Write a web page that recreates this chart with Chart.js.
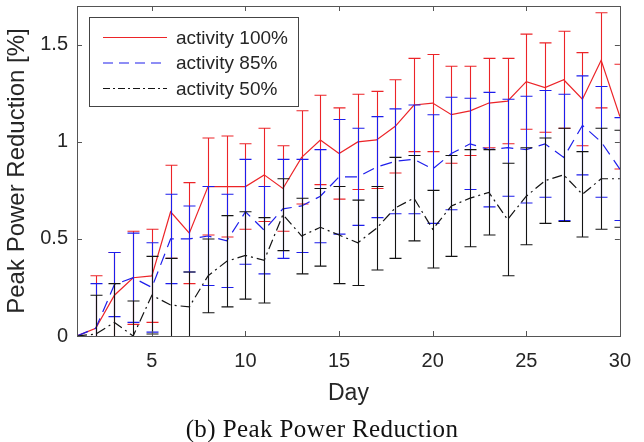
<!DOCTYPE html>
<html>
<head>
<meta charset="utf-8">
<script src="https://cdn.jsdelivr.net/npm/chart.js@4/dist/chart.umd.min.js"></script>
<style>
  body { margin: 0; background: #fff; width: 644px; height: 442px; position: relative; overflow: hidden; }
  canvas { display: block; }
  #caption { position: absolute; left: 0; top: 414px; width: 644px; text-align: center; line-height: 30px;
             font-family: "Liberation Serif", "Times New Roman", serif; font-size: 25px; letter-spacing: 0.4px; color: #111; }
</style>
</head>
<body>
<canvas id="peakChart" width="644" height="415"></canvas>
<div id="caption">(b) Peak Power Reduction</div>
<script>
const days = [1, 2, 3, 4, 5, 6, 7, 8, 9, 10, 11, 12, 13, 14, 15, 16, 17, 18, 19, 20, 21, 22, 23, 24, 25, 26, 27, 28, 29, 30];
const xTicks = [5, 10, 15, 20, 25, 30];
const yTicks = [0, 0.5, 1, 1.5];

// mean values
const act100 = [0, 0.04, 0.21, 0.30, 0.31, 0.64, 0.53, 0.77, 0.77, 0.77, 0.83, 0.76, 0.92, 1.01, 0.94,
                1.00, 1.01, 1.08, 1.19, 1.20, 1.14, 1.16, 1.20, 1.21, 1.31, 1.28, 1.32, 1.22, 1.42, 1.13];
const act85  = [0, 0.04, 0.265, 0.30, 0.25, 0.50, 0.50, 0.515, 0.49, 0.64, 0.545, 0.655, 0.67, 0.72, 0.82,
                0.82, 0.87, 0.90, 0.91, 0.86, 0.94, 0.99, 0.96, 0.97, 0.96, 0.99, 0.92, 1.085, 1.00, 0.86];
const act50  = [0, 0.01, 0.07, 0.0, 0.21, 0.16, 0.15, 0.31, 0.385, 0.415, 0.39, 0.625, 0.515, 0.56, 0.52,
                0.48, 0.555, 0.66, 0.71, 0.55, 0.67, 0.71, 0.74, 0.60, 0.72, 0.80, 0.83, 0.73, 0.81, 0.81];

// half-length of error bars
const err100 = [0, 0.27, 0.22, 0.24, 0.24, 0.24, 0.26, 0.25, 0.26, 0.22, 0.24, 0.22, 0.24, 0.23, 0.235,
                0.245, 0.25, 0.24, 0.24, 0.25, 0.25, 0.23, 0.23, 0.22, 0.245, 0.23, 0.25, 0.24, 0.245, 0.27];
const err85  = [0, 0.23, 0.165, 0.23, 0.23, 0.23, 0.17, 0.255, 0.24, 0.27, 0.225, 0.255, 0.24, 0.24, 0.295,
                0.25, 0.26, 0.27, 0.28, 0.28, 0.29, 0.235, 0.295, 0.25, 0.275, 0.275, 0.325, 0.255, 0.285, 0.265];
const err50  = [0, 0.2, 0.2, 0.18, 0.2, 0.24, 0.18, 0.19, 0.235, 0.225, 0.22, 0.185, 0.195, 0.2, 0.25,
                0.22, 0.215, 0.26, 0.22, 0.2, 0.26, 0.25, 0.22, 0.29, 0.25, 0.22, 0.24, 0.22, 0.26, 0.25];

const RED = 'rgb(236, 36, 40)';
const BLUE = 'rgb(30, 30, 235)';
const BLACK = 'rgb(20, 20, 20)';
const AXIS = '#262626';
const FONT = '"Liberation Sans", Arial, sans-serif';

function pts(vals) {
    return days.map((d, i) => ({x: d, y: vals[i]}));
}

// errorbars drawn per dataset so the stacking matches the lines
const errorBars = {
    id: 'errorBars',
    afterDatasetDraw(chart, args) {
        const ds = chart.data.datasets[args.index];
        if (!ds.errors) return;
        const {ctx, chartArea} = chart;
        const xs = chart.scales.x, ys = chart.scales.y;
        ctx.save();
        ctx.beginPath();
        ctx.rect(chartArea.left, chartArea.top, chartArea.right - chartArea.left, chartArea.bottom - chartArea.top);
        ctx.clip();
        ctx.strokeStyle = ds.borderColor;
        ctx.lineWidth = 1.1;
        ctx.setLineDash([]);
        ds.data.forEach((p, i) => {
            const e = ds.errors[i];
            if (!e) return;
            const x = Math.round(xs.getPixelForValue(p.x)) + 0.5;
            const yt = ys.getPixelForValue(p.y + e);
            const yb = ys.getPixelForValue(p.y - e);
            ctx.beginPath();
            ctx.moveTo(x, yt); ctx.lineTo(x, yb);
            ctx.moveTo(x - 6, yt); ctx.lineTo(x + 6, yt);
            ctx.moveTo(x - 6, yb); ctx.lineTo(x + 6, yb);
            ctx.stroke();
        });
        ctx.restore();
    }
};

// MATLAB style box with inward ticks, plus the boxed legend
const frameAndLegend = {
    id: 'frameAndLegend',
    afterDraw(chart) {
        const {ctx, chartArea: a} = chart;
        const xs = chart.scales.x, ys = chart.scales.y;
        ctx.save();
        ctx.strokeStyle = '#555';
        ctx.lineWidth = 1;
        ctx.setLineDash([]);
        ctx.strokeRect(Math.round(a.left) + 0.5, Math.round(a.top) + 0.5,
                       Math.round(a.right - a.left), Math.round(a.bottom - a.top));
        const tl = 5;
        ctx.beginPath();
        xTicks.forEach(v => {
            const x = Math.round(xs.getPixelForValue(v)) + 0.5;
            ctx.moveTo(x, a.bottom); ctx.lineTo(x, a.bottom - tl);
            ctx.moveTo(x, a.top); ctx.lineTo(x, a.top + tl);
        });
        yTicks.forEach(v => {
            const y = Math.round(ys.getPixelForValue(v)) + 0.5;
            ctx.moveTo(a.left, y); ctx.lineTo(a.left + tl, y);
            ctx.moveTo(a.right, y); ctx.lineTo(a.right - tl, y);
        });
        ctx.stroke();

        // legend
        const bx = 89.5, by = 17.5, bw = 209, bh = 89;
        ctx.fillStyle = '#fff';
        ctx.fillRect(bx, by, bw, bh);
        ctx.strokeStyle = '#444';
        ctx.strokeRect(bx, by, bw, bh);
        ctx.font = '19px ' + FONT;
        ctx.textBaseline = 'middle';
        chart.data.datasets.forEach((ds, i) => {
            const y = 37.5 + i * 25.5;
            ctx.strokeStyle = ds.borderColor;
            ctx.setLineDash(ds.legendDash);
            ctx.lineWidth = 1.2;
            ctx.beginPath();
            ctx.moveTo(103, y); ctx.lineTo(167, y);
            ctx.stroke();
            ctx.fillStyle = AXIS;
            ctx.fillText(ds.label, 176, y + 1);
        });
        ctx.restore();
    }
};

new Chart(document.getElementById('peakChart').getContext('2d'), {
    type: 'line',
    data: {
        datasets: [
            {label: 'activity 100%', data: pts(act100), errors: err100, borderColor: RED,
             borderDash: [], legendDash: [], order: 3},
            {label: 'activity 85%', data: pts(act85), errors: err85, borderColor: BLUE,
             borderDash: [12, 7], legendDash: [10, 6], order: 2},
            {label: 'activity 50%', data: pts(act50), errors: err50, borderColor: BLACK,
             borderDash: [10, 4, 2, 4], legendDash: [7, 3, 2, 3], order: 1}
        ]
    },
    options: {
        responsive: false,
        animation: false,
        devicePixelRatio: 1,
        layout: {padding: {top: 6, right: 12, left: 0, bottom: 0}},
        elements: {
            line: {borderWidth: 1.2, tension: 0, fill: false},
            point: {radius: 0, hoverRadius: 0}
        },
        clip: 0,
        plugins: {legend: {display: false}, tooltip: {enabled: false}},
        scales: {
            x: {
                type: 'linear', min: 1, max: 30,
                grid: {display: false, drawTicks: false, tickLength: 0},
                border: {display: false},
                afterBuildTicks: s => { s.ticks = xTicks.map(v => ({value: v})); },
                afterFit: s => { s.height = 79; },
                ticks: {padding: 13, color: AXIS, maxRotation: 0, font: {family: FONT, size: 20}},
                title: {display: true, text: 'Day', color: AXIS, padding: {top: 0, bottom: 8},
                        font: {family: FONT, size: 23}}
            },
            y: {
                type: 'linear', min: 0, max: 1.7,
                grid: {display: false, drawTicks: false, tickLength: 0},
                border: {display: false},
                afterBuildTicks: s => { s.ticks = yTicks.map(v => ({value: v})); },
                afterFit: s => { s.width = 77; s.paddingTop = 0; s.paddingBottom = 0; },
                ticks: {padding: 9, color: AXIS, callback: v => String(v), font: {family: FONT, size: 20}},
                title: {display: true, text: 'Peak Power Reduction [%]', color: AXIS,
                        padding: {top: 3, bottom: 0}, font: {family: FONT, size: 24}}
            }
        }
    },
    plugins: [errorBars, frameAndLegend]
});
</script>
</body>
</html>
